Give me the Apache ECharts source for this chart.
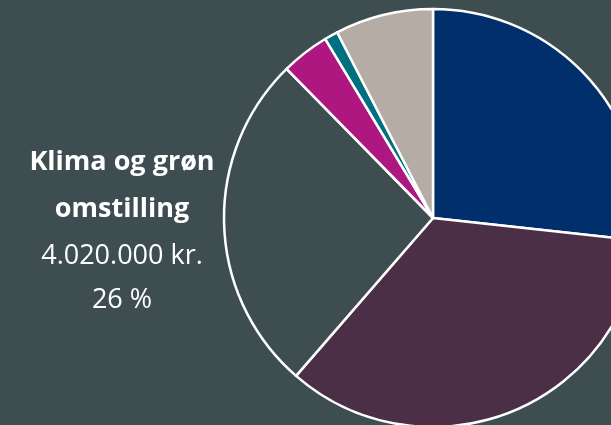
<!DOCTYPE html>
<html>
<head>
<meta charset="utf-8">
<script src="https://cdn.jsdelivr.net/npm/echarts@6/dist/echarts.min.js"></script>
<style>
html,body{margin:0;padding:0;background:#3E4E50;}
#chart{width:611px;height:425px;}
</style>
</head>
<body>
<div id="chart"></div>
<script>
// Data (kr.)
const categories = ['Slice A', 'Slice B', 'Klima og grøn omstilling', 'Slice D', 'Slice E', 'Slice F'];
const values = [4090000, 5300000, 4020000, 570000, 160000, 1160000];
const colors = ['#002F6B', '#4B2F47', '#3E4E50', '#AE1680', '#006F7F', '#B4ACA5'];
const labelIndex = 2;
const labelLines = ['Klima og grøn', 'omstilling'];

const total = values.reduce((a, b) => a + b, 0);
const fmt = v => String(v).replace(/\B(?=(\d{3})+(?!\d))/g, '.');
const pct = Math.round(values[labelIndex] / total * 100);

function txt(t, y, bold, size) {
  return { type: 'text', z: 100, style: { x: 122, y: y, text: t, fill: '#fff', font: (bold ? 'bold ' : '') + size + 'px "Open Sans"', textAlign: 'center', textVerticalAlign: 'middle' } };
}

const chart = echarts.init(document.getElementById('chart'));
chart.setOption({
  backgroundColor: '#3E4E50',
  animation: false,
  graphic: [
    txt(labelLines[0], 162, true, 27),
    txt(labelLines[1], 209, true, 27),
    txt(fmt(values[labelIndex]) + ' kr.', 256, false, 27),
    txt(pct + ' %', 300, false, 27)
  ],
  series: [{
    type: 'pie',
    center: [433, 218],
    radius: [0, 209],
    startAngle: 90,
    clockwise: true,
    label: { show: false },
    labelLine: { show: false },
    emphasis: { disabled: true },
    itemStyle: { borderColor: '#ffffff', borderWidth: 2.5 },
    data: categories.map((c, i) => ({ name: c, value: values[i], itemStyle: { color: colors[i] } }))
  }]
});
</script>
</body>
</html>
